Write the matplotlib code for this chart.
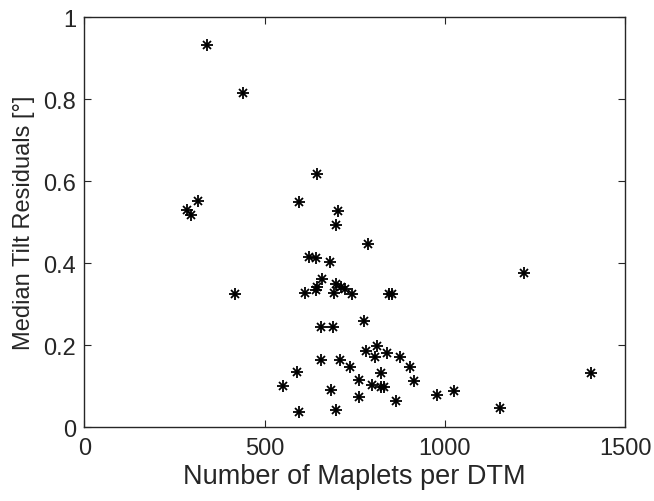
import matplotlib.pyplot as plt
from matplotlib.ticker import FixedLocator

# maplets per DTM vs median tilt residual
n_maplets = [339, 439, 285, 297, 316, 419, 644, 596, 703, 698, 788, 623, 643, 681,
             660, 645, 642, 611, 698, 691, 712, 723, 741, 845, 854, 1220, 655, 689,
             775, 811, 780, 807, 838, 874, 904, 657, 709, 738, 590, 822, 761, 914,
             550, 799, 824, 831, 684, 979, 1024, 761, 863, 594, 698, 1153, 1406]
tilt_resid = [0.933, 0.815, 0.530, 0.517, 0.551, 0.324, 0.618, 0.549, 0.528, 0.493,
              0.447, 0.415, 0.412, 0.403, 0.362, 0.343, 0.334, 0.327, 0.348, 0.328,
              0.343, 0.336, 0.325, 0.324, 0.326, 0.377, 0.245, 0.245, 0.258, 0.198,
              0.185, 0.170, 0.180, 0.170, 0.148, 0.164, 0.164, 0.148, 0.134, 0.132,
              0.116, 0.113, 0.100, 0.103, 0.099, 0.099, 0.091, 0.079, 0.088, 0.073,
              0.063, 0.036, 0.042, 0.046, 0.133]

x_ticks = [0, 500, 1000, 1500]
y_ticks = [0, 0.2, 0.4, 0.6, 0.8, 1]
y_tick_labels = ["0", "0.2", "0.4", "0.6", "0.8", "1"]

plt.rcParams['font.family'] = ['Liberation Sans', 'DejaVu Sans']
axis_grey = '#262626'

fig = plt.figure(figsize=(6.54, 5.02), dpi=100)
ax = fig.add_axes([0.129, 0.147, 0.827, 0.817])

# MATLAB style asterisk: plus + cross
ax.plot(n_maplets, tilt_resid, linestyle='none', marker='+', markersize=8,
        markeredgewidth=1.3, color='black')
ax.plot(n_maplets, tilt_resid, linestyle='none', marker='x', markersize=6,
        markeredgewidth=1.3, color='black')

ax.set_xlim(0, 1500)
ax.set_ylim(0, 1)
ax.xaxis.set_major_locator(FixedLocator(x_ticks))
ax.set_yticks(y_ticks)
ax.set_yticklabels(y_tick_labels)

ax.tick_params(direction='in', top=True, right=True, length=5, width=0.8,
               colors=axis_grey, labelsize=17)
ax.tick_params(axis='x', pad=7)
ax.tick_params(axis='y', pad=6)
for side in ax.spines.values():
    side.set_color(axis_grey)
    side.set_linewidth(1.0)

ax.set_xlabel("Number of Maplets per DTM", fontsize=19.5, color=axis_grey, labelpad=3)
ax.set_ylabel("Median Tilt Residuals [°]", fontsize=17, color=axis_grey, labelpad=6)

fig.savefig("out.png", dpi=100)
